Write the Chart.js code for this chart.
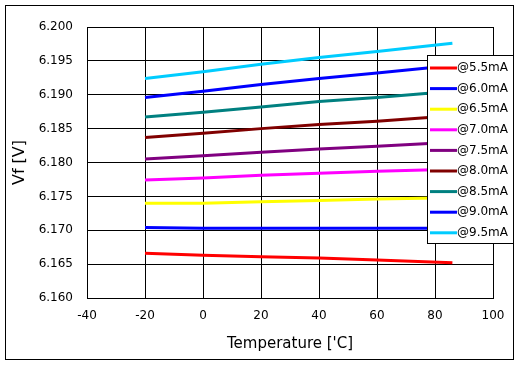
<!DOCTYPE html>
<html>
<head>
<meta charset="utf-8">
<style>
  html, body { margin: 0; padding: 0; background: #fff; }
  #wrap { width: 523px; height: 365px; }
</style>
</head>
<body>
<div id="wrap"><canvas id="vfChart" width="523" height="365"></canvas></div>
<script src="https://cdn.jsdelivr.net/npm/chart.js@4.4.0/dist/chart.umd.min.js"></script>
<script>
// temperature points [°C]
const temps = [-20, 0, 20, 40, 60, 86];

// Vf [V] per forward current
const vf55 = [6.1666, 6.1663, 6.1661, 6.1659, 6.1656, 6.1652];
const vf60 = [6.1704, 6.1703, 6.1703, 6.1703, 6.1703, 6.1703];
const vf65 = [6.1740, 6.1740, 6.1742, 6.1744, 6.1746, 6.1748];
const vf70 = [6.1774, 6.1777, 6.1781, 6.1784, 6.1787, 6.1790];
const vf75 = [6.1805, 6.1810, 6.1815, 6.1820, 6.1824, 6.1830];
const vf80 = [6.1837, 6.1843, 6.1850, 6.1856, 6.1861, 6.1869];
const vf85 = [6.1867, 6.1874, 6.1882, 6.1890, 6.1896, 6.1905];
const vf90 = [6.1896, 6.1905, 6.1915, 6.1924, 6.1932, 6.1943];
const vf95 = [6.1924, 6.1934, 6.1945, 6.1955, 6.1964, 6.1976];

const seriesNames = ['@5.5mA', '@6.0mA', '@6.5mA', '@7.0mA', '@7.5mA', '@8.0mA', '@8.5mA', '@9.0mA', '@9.5mA'];
const seriesData = [vf55, vf60, vf65, vf70, vf75, vf80, vf85, vf90, vf95];
const seriesColors = ['#ff0000', '#0000ff', '#ffff00', '#ff00ff', '#800080', '#800000', '#008080', '#0000ff', '#00ccff'];

const FONT = 'DejaVu Sans';

const datasets = seriesNames.map((name, i) => ({
    label: name,
    data: temps.map((t, j) => ({x: t, y: seriesData[i][j]})),
    borderColor: seriesColors[i],
    backgroundColor: seriesColors[i],
    borderWidth: 3,
    pointRadius: 0,
    tension: 0,
    fill: false
}));

// white page + outer frame
const framePlugin = {
    id: 'frame',
    beforeDraw: (chart) => {
        const ctx = chart.ctx;
        ctx.save();
        ctx.fillStyle = '#ffffff';
        ctx.fillRect(0, 0, chart.width, chart.height);
        ctx.strokeStyle = '#000000';
        ctx.lineWidth = 1;
        ctx.strokeRect(5.5, 5.5, 508, 354);
        ctx.restore();
    }
};

// legend box sitting over the plot, on the right
const boxLegend = {
    id: 'boxLegend',
    afterDraw: (chart) => {
        const ctx = chart.ctx;
        const x0 = 427, y0 = 55, w = 86, h = 188;
        const step = 20.6;
        ctx.save();
        ctx.fillStyle = '#ffffff';
        ctx.fillRect(x0, y0, w, h);
        ctx.strokeStyle = '#000000';
        ctx.lineWidth = 1;
        ctx.strokeRect(x0 + 0.5, y0 + 0.5, w, h);
        ctx.font = '12px "' + FONT + '"';
        ctx.textBaseline = 'middle';
        ctx.textAlign = 'left';
        chart.data.datasets.forEach((ds, i) => {
            const y = y0 + 13 + i * step;
            ctx.strokeStyle = ds.borderColor;
            ctx.lineWidth = 3;
            ctx.beginPath();
            ctx.moveTo(x0 + 3, y);
            ctx.lineTo(x0 + 30, y);
            ctx.stroke();
            ctx.fillStyle = '#000000';
            ctx.fillText(ds.label, x0 + 30, y);
        });
        ctx.restore();
    }
};

const config = {
    type: 'line',
    data: { datasets },
    options: {
        responsive: false,
        animation: false,
        layout: { padding: { left: 0, right: 30, top: 27, bottom: 0 } },
        plugins: {
            legend: { display: false },
            tooltip: { enabled: false }
        },
        scales: {
            x: {
                type: 'linear',
                min: -40,
                max: 100,
                afterFit: (s) => { s.height = 67; },
                ticks: {
                    stepSize: 20,
                    color: '#000',
                    padding: 11,
                    font: { family: FONT, size: 12 }
                },
                grid: { color: '#000', lineWidth: 1, drawTicks: false },
                border: { color: '#000', width: 1 },
                title: {
                    display: true,
                    text: "Temperature ['C]",
                    color: '#000',
                    font: { family: FONT, size: 15 },
                    padding: { top: 6, bottom: 12 }
                }
            },
            y: {
                min: 6.16,
                max: 6.2,
                afterFit: (s) => { s.width = 87; },
                ticks: {
                    stepSize: 0.005,
                    color: '#000',
                    padding: 14,
                    font: { family: FONT, size: 12 },
                    callback: (v) => v.toFixed(3)
                },
                grid: { color: '#000', lineWidth: 1, drawTicks: false },
                border: { color: '#000', width: 1 },
                title: {
                    display: true,
                    text: 'Vf [V]',
                    color: '#000',
                    font: { family: FONT, size: 16 },
                    padding: { top: 10, bottom: 4 }
                }
            }
        }
    },
    plugins: [framePlugin, boxLegend]
};

new Chart(document.getElementById('vfChart').getContext('2d'), config);
</script>
</body>
</html>
